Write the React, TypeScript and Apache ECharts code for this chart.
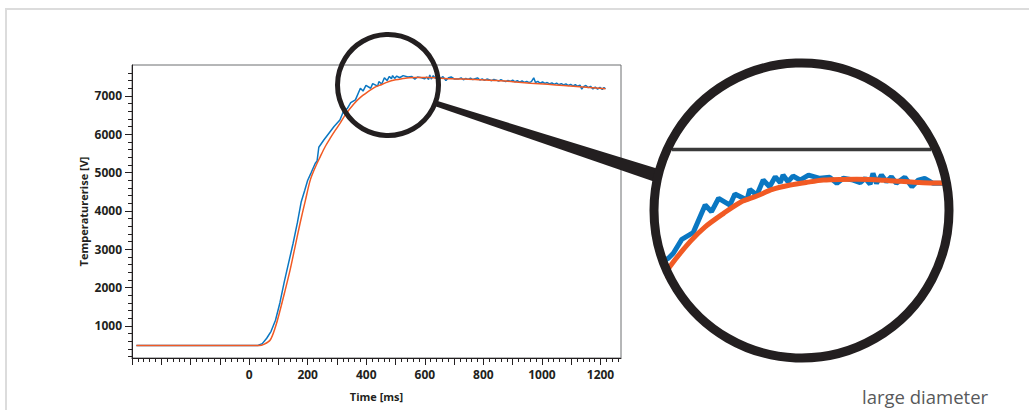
import React, { useEffect, useRef } from "react";
import * as echarts from "echarts";

// Measured temperature rise (blue)
const measuredTime = [
  -385, 30, 45, 60, 75, 90, 105, 120, 135, 150, 165, 178, 190, 200, 212, 226, 232, 238, 255, 270, 290, 310, 322,
  328, 335, 347, 363, 380, 389, 399, 415, 422, 439, 443, 453, 462, 471, 479, 486, 490, 497, 504, 514, 526, 542,
  556, 566, 575, 589, 599, 606, 613, 617, 622, 629, 636, 643, 650, 662, 672, 681, 690, 702, 714,
  724, 732, 740, 748, 756, 764, 772, 780, 788, 796, 804, 812, 820, 828, 836, 844, 852, 860, 868, 876, 884, 892,
  900, 908, 916, 924, 932, 940, 948, 956, 964, 972, 978, 986, 994, 1002, 1010, 1018, 1026, 1034, 1042, 1050,
  1058, 1066, 1074, 1082, 1090, 1098, 1106, 1114, 1122, 1130, 1136, 1142, 1150, 1158, 1166, 1174, 1182, 1190,
  1198, 1206, 1212, 1217,
];
const measuredValue = [
  490, 490, 540, 680, 860, 1150, 1600, 2150, 2650, 3150, 3700, 4240, 4540, 4800, 5000, 5245, 5300, 5660, 5850, 6000, 6200, 6370, 6591,
  6615, 6670, 6823, 6896, 7199, 7126, 7273, 7199, 7320, 7254, 7371, 7309, 7473, 7400, 7509, 7444, 7528, 7455,
  7517, 7473, 7528, 7492, 7503, 7437, 7492, 7473, 7444, 7492, 7429, 7547, 7437, 7528, 7455, 7509, 7437, 7503,
  7400, 7473, 7492, 7437, 7437,
  7470, 7420, 7455, 7430, 7462, 7425, 7448, 7470, 7415, 7440, 7405, 7438, 7420, 7395, 7430, 7410, 7385, 7420,
  7392, 7372, 7400, 7380, 7410, 7368, 7395, 7360, 7388, 7350, 7380, 7345, 7372, 7470, 7350, 7378, 7330, 7362,
  7325, 7348, 7310, 7340, 7300, 7332, 7290, 7320, 7285, 7312, 7270, 7300, 7262, 7290, 7250, 7282, 7175, 7240,
  7270, 7215, 7250, 7180, 7230, 7175, 7220, 7170, 7215, 7185,
];

// Fitted curve (orange)
const fitTime = [
  -385, 35, 50, 72, 90, 106, 123, 140, 157, 174, 192, 209, 226, 243, 260, 277, 294, 311, 330, 359, 380, 406,
  430, 453, 475, 500, 525, 547, 570, 594, 620, 641, 688, 732, 790, 846, 900, 961, 1020, 1074, 1140, 1217,
];
const fitValue = [
  490, 490, 520, 635, 980, 1417, 1930, 2461, 3070, 3679, 4270, 4809, 5140, 5417, 5680, 5897, 6100, 6288, 6523,
  6800, 6960, 7108, 7230, 7298, 7370, 7418, 7450, 7473, 7480, 7481, 7476, 7466, 7444, 7440, 7420, 7400, 7370,
  7332, 7300, 7270, 7230, 7183,
];

// Axis ticks and labels
const xMajorTicks = [-400, -300, -200, -100, 0, 100, 200, 300, 400, 500, 600, 700, 800, 900, 1000, 1100, 1200];
const xTickLabels = [0, 200, 400, 600, 800, 1000, 1200];
const xMinorTicks = [
  -380, -360, -340, -320, -280, -260, -240, -220, -180, -160, -140, -120, -80, -60, -40, -20, 20, 40, 60, 80,
  120, 140, 160, 180, 220, 240, 260, 280, 320, 340, 360, 380, 420, 440, 460, 480, 520, 540, 560, 580, 620, 640,
  660, 680, 720, 740, 760, 780, 820, 840, 860, 880, 920, 940, 960, 980, 1020, 1040, 1060, 1080, 1120, 1140,
  1160, 1180, 1220, 1240, 1260,
];
const yMajorTicks = [1000, 2000, 3000, 4000, 5000, 6000, 7000];
const yMinorTicks = [
  200, 400, 600, 800, 1200, 1400, 1600, 1800, 2200, 2400, 2600, 2800, 3200, 3400, 3600, 3800, 4200, 4400, 4600,
  4800, 5200, 5400, 5600, 5800, 6200, 6400, 6600, 6800, 7200, 7400, 7600,
];

const BLUE = "#0a77c2";
const ORANGE = "#f15a24";
const INK = "#231f20";
const FONT = "'Open Sans', 'Noto Sans', sans-serif";

export default function App() {
  const ref = useRef<HTMLDivElement>(null);
  useEffect(() => {
    if (!ref.current) return;
    const chart = echarts.init(ref.current, null, { renderer: "svg" });
    const measured = measuredTime.map((t, i) => [t, measuredValue[i]]);
    const fit = fitTime.map((t, i) => [t, fitValue[i]]);
    const labelStyle = {
      color: INK, fontWeight: "bold" as const, fontSize: 12, fontFamily: FONT,
      formatter: (v: number) => String(v),
    };
    chart.setOption({
      animation: false,
      backgroundColor: "#ffffff",
      grid: [
        { left: 132, top: 65, width: 489, height: 293, show: true, borderColor: "#6d6e71", borderWidth: 1, outerBoundsMode: "none" },
        { left: 668, top: 140, width: 274, height: 160, show: false, outerBoundsMode: "none" },
      ],
      xAxis: [
        {
          gridIndex: 0, type: "value", min: -400, max: 1270, position: "bottom",
          axisLine: { show: true, onZero: false, lineStyle: { color: INK, width: 1 } },
          axisTick: { show: true, customValues: xMajorTicks, length: 7, lineStyle: { color: INK, width: 1 } },
          axisLabel: { show: true, customValues: xTickLabels, margin: 10, ...labelStyle },
          splitLine: { show: false },
          name: "Time [ms]", nameLocation: "middle", nameGap: 33,
          nameTextStyle: { color: INK, fontWeight: "bold", fontSize: 11, fontFamily: FONT },
        },
        {
          gridIndex: 0, type: "value", min: -400, max: 1270, position: "bottom",
          axisLine: { show: false, onZero: false },
          axisTick: { show: true, customValues: xMinorTicks, length: 4, lineStyle: { color: INK, width: 1 } },
          axisLabel: { show: false },
          splitLine: { show: false },
        },
        { gridIndex: 1, type: "value", min: 327.5, max: 714.5, show: false, axisLine: { onZero: false } },
      ],
      yAxis: [
        {
          gridIndex: 0, type: "value", min: 165, max: 7805, position: "left",
          axisLine: { show: true, onZero: false, lineStyle: { color: INK, width: 1 } },
          axisTick: { show: true, customValues: yMajorTicks, length: 7, lineStyle: { color: INK, width: 1 } },
          axisLabel: { show: true, customValues: yMajorTicks, margin: 10, ...labelStyle },
          splitLine: { show: false },
          name: "Temperaturerise [V]", nameLocation: "middle", nameGap: 43,
          nameTextStyle: { color: INK, fontWeight: "bold", fontSize: 11, fontFamily: FONT },
        },
        {
          gridIndex: 0, type: "value", min: 165, max: 7805, position: "left",
          axisLine: { show: false, onZero: false },
          axisTick: { show: true, customValues: yMinorTicks, length: 4, lineStyle: { color: INK, width: 1 } },
          axisLabel: { show: false },
          splitLine: { show: false },
        },
        { gridIndex: 1, type: "value", min: 6158, max: 7912, show: false, axisLine: { onZero: false } },
      ],
      series: [
        {
          type: "line", xAxisIndex: 0, yAxisIndex: 0, data: measured, showSymbol: false,
          lineStyle: { color: BLUE, width: 1.5 }, itemStyle: { color: BLUE }, z: 2,
        },
        {
          type: "line", xAxisIndex: 0, yAxisIndex: 0, data: fit, showSymbol: false, smooth: 0.3,
          lineStyle: { color: ORANGE, width: 1.5 }, itemStyle: { color: ORANGE }, z: 3,
        },
        {
          type: "line", xAxisIndex: 2, yAxisIndex: 2, data: measured, showSymbol: false,
          lineStyle: { color: BLUE, width: 5 }, itemStyle: { color: BLUE }, z: 2,
        },
        {
          type: "line", xAxisIndex: 2, yAxisIndex: 2, data: fit, showSymbol: false, smooth: 0.3,
          lineStyle: { color: ORANGE, width: 5 }, itemStyle: { color: ORANGE }, z: 3,
        },
      ],
      graphic: [
        {
          type: "rect", z: 0, silent: true,
          shape: { x: 6, y: 9, width: 1100, height: 500 },
          style: { fill: "none", stroke: "#dcdcdc", lineWidth: 2 },
        },
        {
          type: "line", z: 90, silent: true,
          shape: { x1: 672, y1: 149.4, x2: 931, y2: 149.4 },
          style: { stroke: "#3a3a3a", lineWidth: 3.5 },
        },
        {
          type: "polygon", z: 100, silent: true,
          shape: { points: [[436, 100.5], [656, 168.3], [656, 182.2], [436, 106.6]] },
          style: { fill: INK },
        },
        {
          type: "circle", z: 100, silent: true,
          shape: { cx: 388, cy: 85, r: 50.5 },
          style: { fill: "none", stroke: INK, lineWidth: 5 },
        },
        {
          type: "circle", z: 100, silent: true,
          shape: { cx: 801.5, cy: 210.5, r: 147.5 },
          style: { fill: "none", stroke: INK, lineWidth: 9 },
        },
        {
          type: "text", z: 100, silent: true, x: 862, y: 396,
          style: {
            text: "large diameter", fill: "#58595b", fontSize: 18.5, fontFamily: FONT,
            verticalAlign: "middle", align: "left",
          },
        },
      ],
    });
    return () => chart.dispose();
  }, []);
  return (
    <div
      ref={ref}
      style={{ position: "fixed", left: 0, top: 0, width: 1029, height: 410, background: "#fff" }}
    />
  );
}
